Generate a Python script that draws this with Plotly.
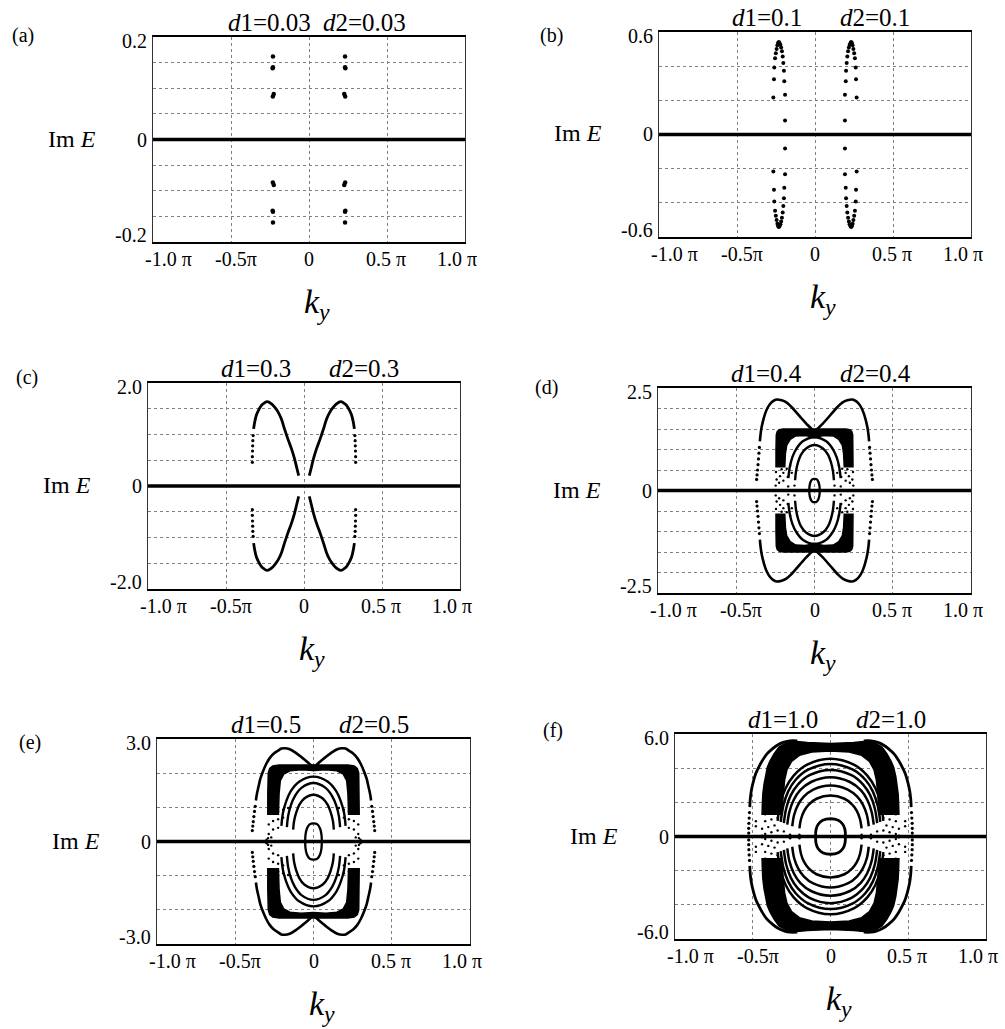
import plotly.graph_objects as go

# ---------------------------------------------------------------
# Im E versus k_y for six values of d1 = d2.
# ky is given in units of pi.  Point sets are listed for the
# quadrant ky >= 0, Im E >= 0; the spectrum is symmetric under
# ky -> -ky and Im E -> -Im E, so the other quadrants are mirrors.
# ---------------------------------------------------------------

# (a) d = 0.03 : isolated eigenvalues
A_DOT_K = [0.231, 0.231, 0.233, 0.226, 0.232]
A_DOT_E = [0.162, 0.141, 0.139, 0.089, 0.084]

# (b) d = 0.1 : narrow loop of eigenvalues
B_DOT_K = [0.192, 0.192, 0.197, 0.199, 0.203, 0.207, 0.212, 0.217, 0.222, 0.228,
           0.232, 0.237, 0.241, 0.246, 0.251, 0.256, 0.261, 0.263, 0.267]
B_DOT_E = [0.082, 0.232, 0.311, 0.373, 0.418, 0.457, 0.488, 0.510, 0.526, 0.537,
           0.541, 0.536, 0.522, 0.500, 0.475, 0.447, 0.392, 0.324, 0.217]

# (c) d = 0.3 : two arcs per half plane
C_ARC_K = [0.034, 0.047, 0.060, 0.080, 0.103, 0.125, 0.145, 0.165, 0.188, 0.210,
           0.235, 0.255, 0.274, 0.292, 0.306, 0.316, 0.323]
C_ARC_E = [0.20, 0.36, 0.52, 0.72, 0.91, 1.11, 1.30, 1.43, 1.53, 1.60,
           1.64, 1.61, 1.56, 1.47, 1.37, 1.24, 1.11]
C_TAIL_K = [0.326, 0.328, 0.329, 0.330, 0.331, 0.331]
C_TAIL_E = [0.98, 0.88, 0.78, 0.68, 0.57, 0.46]

# (d) d = 0.4
D_WING_K = [0.0, 0.017, 0.050, 0.081, 0.115, 0.145, 0.180, 0.210, 0.242, 0.265,
            0.284, 0.302, 0.316, 0.328, 0.338, 0.345, 0.349]
D_WING_E = [1.46, 1.50, 1.62, 1.75, 1.90, 2.03, 2.15, 2.20, 2.22, 2.18,
            2.11, 2.00, 1.87, 1.71, 1.54, 1.36, 1.20]
D_WING_DOT_K = [0.352, 0.355, 0.358, 0.361, 0.364, 0.367, 0.370]
D_WING_DOT_E = [1.05, 0.91, 0.77, 0.63, 0.50, 0.38, 0.27]
D_BAND_OUT_K = [0.0, 0.10, 0.20, 0.225, 0.238, 0.244, 0.246, 0.246]
D_BAND_OUT_E = [1.50, 1.50, 1.50, 1.48, 1.44, 1.36, 1.00, 0.58]
D_BAND_IN_K = [0.0, 0.06, 0.12, 0.155, 0.178, 0.186, 0.190]
D_BAND_IN_E = [1.30, 1.34, 1.33, 1.25, 1.10, 0.90, 0.58]
D_ARCS = [
    ([0.0, 0.056, 0.087, 0.105, 0.118, 0.124], [1.11, 1.02, 0.87, 0.69, 0.47, 0.25]),
    ([0.0, 0.075, 0.117, 0.142, 0.159, 0.167], [1.30, 1.20, 1.01, 0.81, 0.55, 0.30]),
]
D_LOOP_K = [0.0, 0.015, 0.026, 0.032, 0.033]
D_LOOP_E = [0.285, 0.27, 0.20, 0.10, 0.0]
D_FRINGE_K = [0.156, 0.177, 0.199, 0.220, 0.242, 0.145, 0.171, 0.199, 0.226, 0.248,
              0.246, 0.128, 0.168, 0.210]
D_FRINGE_E = [0.61, 0.53, 0.43, 0.35, 0.27, 0.43, 0.33, 0.24, 0.19, 0.12,
              0.45, 0.12, 0.10, 0.52]

# (e) d = 0.5
E_WING_K = [0.0, 0.013, 0.045, 0.077, 0.115, 0.152, 0.184, 0.205, 0.226, 0.255,
            0.280, 0.303, 0.323, 0.340, 0.351, 0.362, 0.368]
E_WING_E = [2.18, 2.22, 2.35, 2.47, 2.60, 2.70, 2.73, 2.72, 2.66, 2.57,
            2.44, 2.26, 2.05, 1.83, 1.61, 1.38, 1.20]
E_WING_DOT_K = [0.372, 0.377, 0.381, 0.385, 0.388, 0.391]
E_WING_DOT_E = [1.03, 0.88, 0.73, 0.58, 0.45, 0.32]
E_BAND_OUT_K = [0.0, 0.12, 0.22, 0.26, 0.28, 0.289, 0.292, 0.292]
E_BAND_OUT_E = [2.24, 2.24, 2.24, 2.21, 2.14, 2.00, 1.40, 0.80]
E_BAND_IN_K = [0.0, 0.08, 0.15, 0.19, 0.212, 0.220, 0.224]
E_BAND_IN_E = [2.08, 2.10, 2.07, 1.97, 1.78, 1.40, 0.80]
E_ARCS = [
    ([0.0, 0.059, 0.091, 0.110, 0.124, 0.130], [1.37, 1.26, 1.07, 0.85, 0.60, 0.35]),
    ([0.0, 0.077, 0.119, 0.145, 0.162, 0.170], [1.71, 1.57, 1.33, 1.06, 0.75, 0.42]),
    ([0.0, 0.092, 0.144, 0.174, 0.195, 0.205], [1.90, 1.75, 1.48, 1.18, 0.84, 0.46]),
]
E_LOOP_K = [0.0, 0.025, 0.042, 0.051, 0.053]
E_LOOP_E = [0.53, 0.50, 0.38, 0.20, 0.0]
E_FRINGE_K = [0.162, 0.194, 0.226, 0.258, 0.194, 0.226, 0.258, 0.286, 0.226,
              0.258, 0.286, 0.300, 0.270, 0.290]
E_FRINGE_E = [0.98, 0.93, 0.88, 0.83, 0.70, 0.65, 0.60, 0.50, 0.40,
              0.35, 0.22, 0.05, 0.12, 0.10]

# (f) d = 1.0
F_OUTER_K = [0.214, 0.260, 0.299, 0.340, 0.374, 0.410, 0.438, 0.462, 0.481, 0.497,
             0.509, 0.516, 0.519]
F_OUTER_E = [5.60, 5.60, 5.52, 5.36, 5.13, 4.82, 4.45, 4.05, 3.67, 3.18,
             2.69, 2.20, 1.72]
F_OUTER_DOT_K = [0.521, 0.523, 0.525, 0.526, 0.526]
F_OUTER_DOT_E = [1.40, 1.08, 0.77, 0.48, 0.20]
F_BAND_OUT_K = [0.0, 0.15, 0.23, 0.29, 0.33, 0.363, 0.39, 0.406, 0.42, 0.427, 0.435, 0.438, 0.44]
F_BAND_OUT_E = [5.45, 5.50, 5.58, 5.45, 5.25, 4.84, 4.40, 4.06, 3.50, 3.08, 2.50, 1.91, 1.30]
F_BAND_IN_K = [0.0, 0.12, 0.20, 0.25, 0.28, 0.295, 0.305, 0.31]
F_BAND_IN_E = [5.00, 4.95, 4.75, 4.40, 3.90, 3.30, 2.40, 1.30]
F_ARCS = [
    ([0.0, 0.090, 0.140, 0.170, 0.190, 0.200], [2.40, 2.21, 1.87, 1.49, 1.01, 0.48]),
    ([0.0, 0.111, 0.172, 0.209, 0.234, 0.246], [2.99, 2.75, 2.33, 1.85, 1.26, 0.60]),
    ([0.0, 0.125, 0.195, 0.236, 0.264, 0.278], [3.47, 3.19, 2.71, 2.15, 1.46, 0.70]),
    ([0.0, 0.135, 0.210, 0.255, 0.285, 0.300], [3.90, 3.59, 3.04, 2.42, 1.64, 0.78]),
    ([0.0, 0.144, 0.224, 0.272, 0.304, 0.320], [4.25, 3.91, 3.32, 2.64, 1.79, 0.85]),
    ([0.0, 0.153, 0.238, 0.289, 0.323, 0.340], [4.55, 4.19, 3.55, 2.82, 1.91, 0.91]),
]
F_LOOP_K = [0.0, 0.050, 0.080, 0.093, 0.096]
F_LOOP_E = [1.04, 0.95, 0.70, 0.40, 0.0]
F_FRINGE_K = [0.34, 0.38, 0.42, 0.34, 0.38, 0.42, 0.36, 0.40, 0.44,
              0.34, 0.38, 0.42, 0.26, 0.20, 0.44, 0.48, 0.48, 0.30]
F_FRINGE_E = [1.50, 1.40, 1.30, 1.10, 1.00, 0.90, 0.65, 0.55, 0.45,
              0.35, 0.25, 0.15, 0.10, 0.10, 0.05, 0.90, 0.60, 0.30]

# axis settings per panel
PANELS = ['a', 'b', 'c', 'd', 'e', 'f']
Y_LIMIT = {'a': 0.2, 'b': 0.6, 'c': 2.0, 'd': 2.5, 'e': 3.0, 'f': 6.0}
Y_GRID_STEP = {'a': 0.05, 'b': 0.2, 'c': 0.5, 'd': 0.5, 'e': 1.0, 'f': 2.0}
Y_TICK_TEXT = {'a': ('0.2', '-0.2'), 'b': ('0.6', '-0.6'), 'c': ('2.0', '-2.0'),
               'd': ('2.5', '-2.5'), 'e': ('3.0', '-3.0'), 'f': ('6.0', '-6.0')}
X_TICK_VALS = [-1.0, -0.5, 0.0, 0.5, 1.0]
X_TICK_TEXT = ['-1.0 \u03c0', '-0.5\u03c0', '0', '0.5 \u03c0', '1.0 \u03c0']
D_VALUE = {'a': '0.03', 'b': '0.1', 'c': '0.3', 'd': '0.4', 'e': '0.5', 'f': '1.0'}

# ---------------- layout geometry (pixels) ----------------
W, H = 1005, 1029
BOX = {  # left, right, top, bottom of each plotting area
    'a': (153, 465, 37, 242),
    'b': (659, 971, 32, 237),
    'c': (148, 460, 383, 589),
    'd': (658, 971, 388, 593),
    'e': (157, 470, 739, 944),
    'f': (675, 986, 734, 939),
}
TITLE_GAP = {'a': (4, 12), 'b': (-11, 23), 'c': (-11, 23), 'd': (-11, 23), 'e': (-11, 23), 'f': (-11, 23)}
X_LABEL_SHIFT = [15, 5, 0, -1, -8]
FONT = 'Liberation Serif'
GRID = '#808080'

fig = go.Figure()


def axes_of(p):
    n = PANELS.index(p) + 1
    return ('x' if n == 1 else f'x{n}'), ('y' if n == 1 else f'y{n}')


def mirrored_points(k, e):
    xs = list(k) + [-v for v in k] + list(k) + [-v for v in k]
    ys = list(e) + list(e) + [-v for v in e] + [-v for v in e]
    return xs, ys


def arch(k, e):
    xs = [-v for v in k[::-1]] + list(k[1:])
    ys = list(e[::-1]) + list(e[1:])
    return xs, ys


def add_dots(p, k, e, size):
    xa, ya = axes_of(p)
    xs, ys = mirrored_points(k, e)
    fig.add_trace(go.Scatter(x=xs, y=ys, mode='markers', xaxis=xa, yaxis=ya,
                             marker=dict(size=size, color='black'),
                             hoverinfo='skip', showlegend=False))


def add_side_curves(p, k, e, width):
    # curve that stays on one side of ky = 0, drawn in all four quadrants
    xa, ya = axes_of(p)
    xs, ys = [], []
    for sx in (1, -1):
        for sy in (1, -1):
            xs += [sx * v for v in k] + [None]
            ys += [sy * v for v in e] + [None]
    fig.add_trace(go.Scatter(x=xs, y=ys, mode='lines', xaxis=xa, yaxis=ya,
                             line=dict(color='black', width=width, shape='spline'),
                             connectgaps=False, hoverinfo='skip', showlegend=False))


def add_arches(p, k, e, width):
    # curve crossing ky = 0, upper and lower copies
    xa, ya = axes_of(p)
    ax_, ay_ = arch(k, e)
    xs = ax_ + [None] + ax_
    ys = ay_ + [None] + [-v for v in ay_]
    fig.add_trace(go.Scatter(x=xs, y=ys, mode='lines', xaxis=xa, yaxis=ya,
                             line=dict(color='black', width=width, shape='spline'),
                             connectgaps=False, hoverinfo='skip', showlegend=False))


def add_loop(p, k, e, width):
    xa, ya = axes_of(p)
    ax_, ay_ = arch(k, e)
    xs = ax_ + ax_[::-1][1:]
    ys = ay_ + [-v for v in ay_[::-1]][1:]
    fig.add_trace(go.Scatter(x=xs, y=ys, mode='lines', xaxis=xa, yaxis=ya,
                             line=dict(color='black', width=width, shape='spline'),
                             hoverinfo='skip', showlegend=False))


def add_band(p, ok, oe, ik, ie):
    xa, ya = axes_of(p)
    xs = list(ok) + list(ik[::-1]) + [-v for v in ik] + [-v for v in ok[::-1]]
    ys = list(oe) + list(ie[::-1]) + list(ie) + list(oe[::-1])
    for sy in (1, -1):
        fig.add_trace(go.Scatter(x=xs, y=[sy * v for v in ys], mode='lines', fill='toself',
                                 fillcolor='black', xaxis=xa, yaxis=ya,
                                 line=dict(color='black', width=1.5),
                                 hoverinfo='skip', showlegend=False))


# (a)
add_dots('a', A_DOT_K, A_DOT_E, 4.5)
# (b)
add_dots('b', B_DOT_K, B_DOT_E, 4)
# (c)
add_side_curves('c', C_ARC_K, C_ARC_E, 2.8)
add_dots('c', C_TAIL_K, C_TAIL_E, 3.2)
# (d)
add_band('d', D_BAND_OUT_K, D_BAND_OUT_E, D_BAND_IN_K, D_BAND_IN_E)
add_arches('d', D_WING_K, D_WING_E, 2.6)
add_dots('d', D_WING_DOT_K, D_WING_DOT_E, 3.2)
for k, e in D_ARCS:
    add_arches('d', k, e, 2.4)
add_loop('d', D_LOOP_K, D_LOOP_E, 2.3)
add_dots('d', D_FRINGE_K, D_FRINGE_E, 2.4)
# (e)
add_band('e', E_BAND_OUT_K, E_BAND_OUT_E, E_BAND_IN_K, E_BAND_IN_E)
add_arches('e', E_WING_K, E_WING_E, 2.6)
add_dots('e', E_WING_DOT_K, E_WING_DOT_E, 3.2)
for k, e in E_ARCS:
    add_arches('e', k, e, 2.4)
add_loop('e', E_LOOP_K, E_LOOP_E, 2.3)
add_dots('e', E_FRINGE_K, E_FRINGE_E, 2.4)
# (f)
add_band('f', F_BAND_OUT_K, F_BAND_OUT_E, F_BAND_IN_K, F_BAND_IN_E)
add_side_curves('f', F_OUTER_K, F_OUTER_E, 2.8)
add_dots('f', F_OUTER_DOT_K, F_OUTER_DOT_E, 3.2)
for k, e in F_ARCS:
    add_arches('f', k, e, 2.5)
add_loop('f', F_LOOP_K, F_LOOP_E, 2.8)
add_dots('f', F_FRINGE_K, F_FRINGE_E, 2.4)

# ---------------- axes, frames, labels ----------------
layout = dict(width=W, height=H, autosize=False, margin=dict(l=0, r=0, t=0, b=0),
              paper_bgcolor='white', plot_bgcolor='white', showlegend=False,
              font=dict(family=FONT, color='black'))
shapes, notes = [], []


def px(x):
    return x / W


def py(y):
    return 1 - y / H


def text(txt, x, y, size, xanchor='center'):
    return dict(text=txt, x=px(x), y=py(y), xref='paper', yref='paper',
                xanchor=xanchor, yanchor='middle', showarrow=False,
                font=dict(family=FONT, size=size, color='black'))


for n, p in enumerate(PANELS, start=1):
    l, r, t, b = BOX[p]
    sfx = '' if n == 1 else str(n)
    lim, step = Y_LIMIT[p], Y_GRID_STEP[p]
    count = int(round(2 * lim / step))
    grid_vals = [round(-lim + j * step, 6) for j in range(count + 1)]
    layout['xaxis' + sfx] = dict(domain=[px(l), px(r)], range=[-1, 1], anchor='y' + sfx,
                                 tickvals=[-0.5, 0, 0.5], showticklabels=False, ticks='',
                                 showgrid=True, gridcolor=GRID, griddash='dot', gridwidth=1,
                                 zeroline=False, showline=True, linecolor='black',
                                 linewidth=2.2, mirror=True, fixedrange=True)
    layout['yaxis' + sfx] = dict(domain=[py(b), py(t)], range=[-lim, lim], anchor='x' + sfx,
                                 tickvals=grid_vals, showticklabels=False, ticks='',
                                 showgrid=True, gridcolor=GRID, griddash='dot', gridwidth=1,
                                 zeroline=False, showline=True, linecolor='#333333',
                                 linewidth=1.2, mirror=True, fixedrange=True)
    # thick Im E = 0 line
    shapes.append(dict(type='line', xref='x' + sfx, yref='y' + sfx, x0=-1, x1=1, y0=0, y1=0,
                       line=dict(color='black', width=3.5), layer='above'))
    # y tick labels
    top_txt, bot_txt = Y_TICK_TEXT[p]
    for txt, yy in ((top_txt, t + 4), ('0', (t + b) / 2), (bot_txt, b - 7)):
        notes.append(text(txt, l - 4, yy, 20, xanchor='right'))
    # x tick labels
    for val, txt, sh in zip(X_TICK_VALS, X_TICK_TEXT, X_LABEL_SHIFT):
        xx = l + (val + 1) / 2 * (r - l) + sh
        notes.append(text(txt, xx, b + 17, 20))
    # axis titles
    notes.append(text('Im <i>E</i>', l - 81, (t + b) / 2 - 1, 24))
    notes.append(text('<i>k<sub>y</sub></i>', (l + r) / 2 + 8, b + 62, 34))
    # panel title d1 = d2 = value
    cx = (l + r) / 2
    g1, g2 = TITLE_GAP[p]
    notes.append(text('<i>d</i>1=' + D_VALUE[p], cx + g1, t - 15, 25, xanchor='right'))
    notes.append(text('<i>d</i>2=' + D_VALUE[p], cx + g2, t - 15, 25, xanchor='left'))

PANEL_TAG_POS = {'a': (23, 35), 'b': (551, 35), 'c': (27, 378), 'd': (546, 387),
                 'e': (30, 742), 'f': (553, 730)}
for p, (x, y) in PANEL_TAG_POS.items():
    notes.append(text(f'({p})', x, y, 20))

layout['shapes'] = shapes
layout['annotations'] = notes
fig.update_layout(**layout)
fig.write_html('out.html')
